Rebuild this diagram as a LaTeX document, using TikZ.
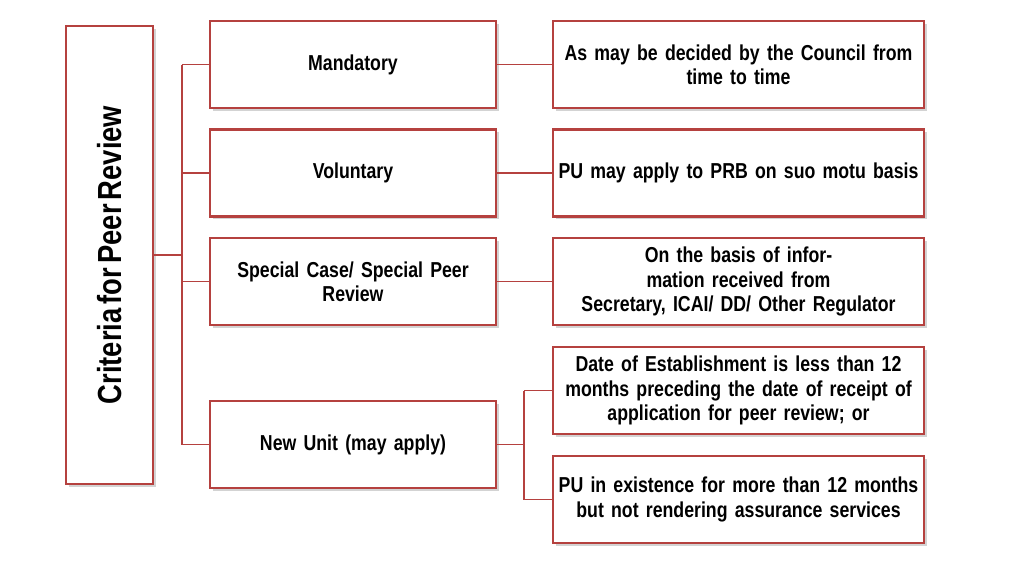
\documentclass[tikz,border=0pt]{standalone}
\usepackage{fontspec}
\setmainfont{Liberation Sans}[FakeStretch=0.82,WordSpace=0.55]
\usetikzlibrary{shadows}
\definecolor{boxred}{HTML}{B5413F}
\definecolor{linered}{HTML}{B5413F}

\begin{document}
\begin{tikzpicture}[x=0.02cm,y=-0.02cm,
    box/.style={draw=boxred,line width=1.6pt,fill=white,drop shadow={opacity=0.35,shadow xshift=1.5pt,shadow yshift=-1.5pt},
                font=\bfseries\fontsize{12.3}{13.8}\selectfont,align=center,inner sep=1pt},
    mid/.style={box,minimum width=5.72cm,minimum height=1.74cm,text width=5.4cm},
    right box/.style={box,minimum width=7.42cm,minimum height=1.74cm,text width=7.3cm},
    link/.style={draw=linered,line width=0.9pt}]
  \useasboundingbox (0,0) rectangle (1024,575);
  \node[box,minimum width=1.74cm,minimum height=9.16cm] (crit) at (109.5,255) {};
  \node[rotate=90,font=\bfseries\fontsize{19}{22}\selectfont] at (crit.center) {Criteria for Peer Review};
  \node[mid] (mand) at (353,64.5) {Mandatory};
  \node[mid] (vol) at (353,173) {Voluntary};
  \node[mid] (spec) at (353,281.5) {Special Case/ Special Peer\\Review};
  \node[mid] (new) at (353,444.5) {New Unit (may apply)};
  \node[right box] (council) at (738.5,64.5) {As may be decided by the Council from\\time to time};
  \node[right box] (suo) at (738.5,173) {PU may apply to PRB on suo motu basis};
  \node[right box] (info) at (738.5,281.5) {On the basis of information received from\\Secretary, ICAI/ DD/ Other Regulator};
  \node[right box] (date) at (738.5,390.5) {Date of Establishment is less than 12\\months preceding the date of receipt of\\application for peer review; or};
  \node[right box] (exist) at (738.5,499.5) {PU in existence for more than 12 months\\but not rendering assurance services};
  % connectors
  \coordinate (bus) at (182,255);
  \coordinate (fork) at (524,444.5);
  \draw[link] (crit.east) -- (bus);
  \foreach \n in {mand,vol,spec,new}
    \draw[link] (bus |- \n.west) -- (\n.west);
  \draw[link] (bus |- mand.west) -- (bus |- new.west);
  \draw[link] (mand) -- (council);
  \draw[link] (vol) -- (suo);
  \draw[link] (spec) -- (info);
  \draw[link] (new.east) -- (fork);
  \draw[link] (fork |- date.west) -- (fork |- exist.west);
  \draw[link] (fork |- date.west) -- (date.west);
  \draw[link] (fork |- exist.west) -- (exist.west);
\end{tikzpicture}
\end{document}
